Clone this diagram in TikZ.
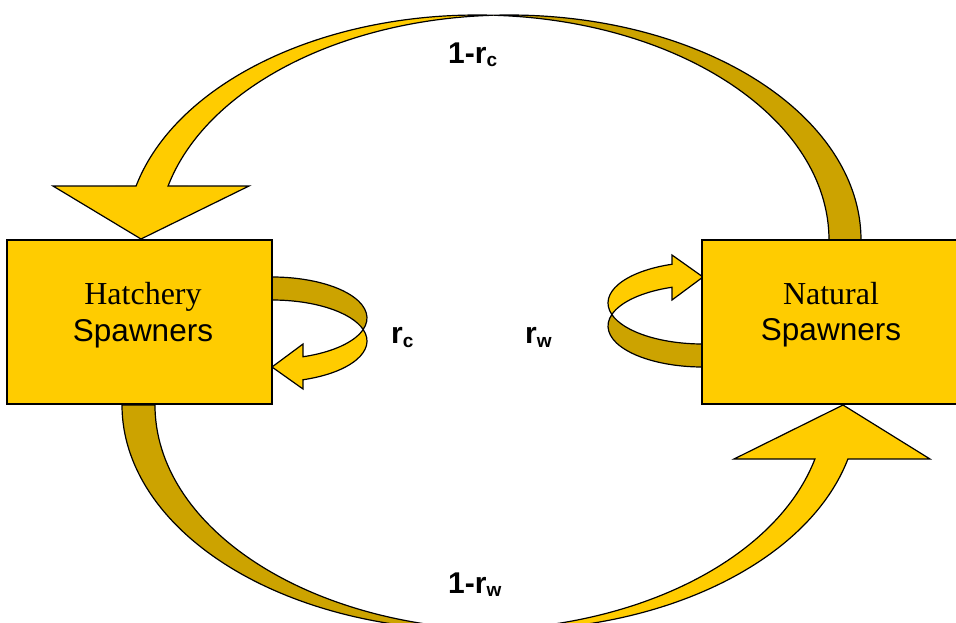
\documentclass[tikz,border=0pt]{standalone}
\usepackage{fontspec}
\setmainfont{Liberation Serif}
\newfontfamily\arialfont{Liberation Sans}
\definecolor{lightgold}{HTML}{FFCC00}
\definecolor{darkgold}{HTML}{CCA300}
\newcommand\ratesub[1]{\raisebox{-3.5pt}{\fontsize{19}{20}\selectfont #1}}
\begin{document}
\begin{tikzpicture}[x=1pt,y=1pt,
  band/.style={draw=black, line width=1.2pt, line join=miter, miter limit=20},
  lightband/.style={band, fill=lightgold},
  darkband/.style={band, fill=darkgold},
  boxstyle/.style={draw=black, line width=1.2pt, fill=lightgold, rectangle, inner sep=0pt, minimum width=265pt, minimum height=164pt},
  serifname/.style={font=\fontsize{32}{38}\selectfont, anchor=base},
  sansname/.style={font=\arialfont\fontsize{31.5}{38}\selectfont, anchor=base},
  ratelabel/.style={font=\arialfont\bfseries\fontsize{30}{36}\selectfont, anchor=base west, inner sep=0pt}]
\useasboundingbox (0,0) rectangle (956,-622);
\clip (0,0) rectangle (956,-622);

% top arrow: natural -> hatchery (1-r_c)
\draw[darkband] (861,-240) arc[start angle=0, end angle=92.61, x radius=351.6, y radius=225]
  arc[start angle=87.39, end angle=0, x radius=351.6, y radius=225] -- cycle;
\draw[lightband] ([shift={(477.4,-240)}]87.39:351.6 and 225)
  arc[start angle=87.39, end angle=166.11, x radius=351.6, y radius=225]
  -- (53,-186) -- (141,-239) -- (249,-186)
  -- ([shift={(509.4,-240)}]166.11:351.6 and 225)
  arc[start angle=166.11, end angle=92.61, x radius=351.6, y radius=225] -- cycle;

% bottom arrow: hatchery -> natural (1-r_w)
\draw[darkband] (122,-405) arc[start angle=180, end angle=272.69, x radius=351.6, y radius=225]
  arc[start angle=267.31, end angle=180, x radius=351.6, y radius=225] -- cycle;
\draw[lightband] ([shift={(506.6,-405)}]267.31:351.6 and 225)
  arc[start angle=267.31, end angle=346.11, x radius=351.6, y radius=225]
  -- (930,-459) -- (843,-405) -- (734,-459)
  -- ([shift={(473.6,-405)}]346.11:351.6 and 225)
  arc[start angle=346.11, end angle=272.69, x radius=351.6, y radius=225] -- cycle;

% left loop (r_c)
\draw[darkband] (272,-277) arc[start angle=90, end angle=-16.29, x radius=95, y radius=41]
  arc[start angle=16.29, end angle=90, x radius=95, y radius=41] -- cycle;
\draw[lightband] ([shift={(272,-318)}]-16.29:95 and 41)
  arc[start angle=-16.29, end angle=-70.96, x radius=95, y radius=41]
  -- (303,-344) -- (272,-367) -- (303,-389)
  -- ([shift={(272,-341)}]-70.96:95 and 41)
  arc[start angle=-70.96, end angle=16.29, x radius=95, y radius=41] -- cycle;

% right loop (r_w), the left loop turned half round
\begin{scope}[rotate around={180:(487.5,-322)}]
\draw[darkband] (272,-277) arc[start angle=90, end angle=-16.29, x radius=95, y radius=41]
  arc[start angle=16.29, end angle=90, x radius=95, y radius=41] -- cycle;
\draw[lightband] ([shift={(272,-318)}]-16.29:95 and 41)
  arc[start angle=-16.29, end angle=-70.96, x radius=95, y radius=41]
  -- (303,-344) -- (272,-367) -- (303,-389)
  -- ([shift={(272,-341)}]-70.96:95 and 41)
  arc[start angle=-70.96, end angle=16.29, x radius=95, y radius=41] -- cycle;
\end{scope}

% boxes
\node[boxstyle] (hatch) at (139.5,-322) {};
\node[boxstyle] (natural) at (834.5,-322) {};
\node[serifname] (hatchword) at (143,-304) {Hatchery};
\node[sansname] (hatchsp) at (143,-341.7) {Spawners};
\node[serifname] (natword) at (831,-304) {Natural};
\node[sansname] (natsp) at (831,-340) {Spawners};

% rate labels
\node[ratelabel] (toplabel) at (448,-63) {1-r\ratesub{c}};
\node[ratelabel] (rclabel) at (391,-343.5) {r\ratesub{c}};
\node[ratelabel] (rwlabel) at (525,-343.5) {r\ratesub{w}};
\node[ratelabel] (botlabel) at (448,-593) {1-r\ratesub{w}};
\end{tikzpicture}
\end{document}
